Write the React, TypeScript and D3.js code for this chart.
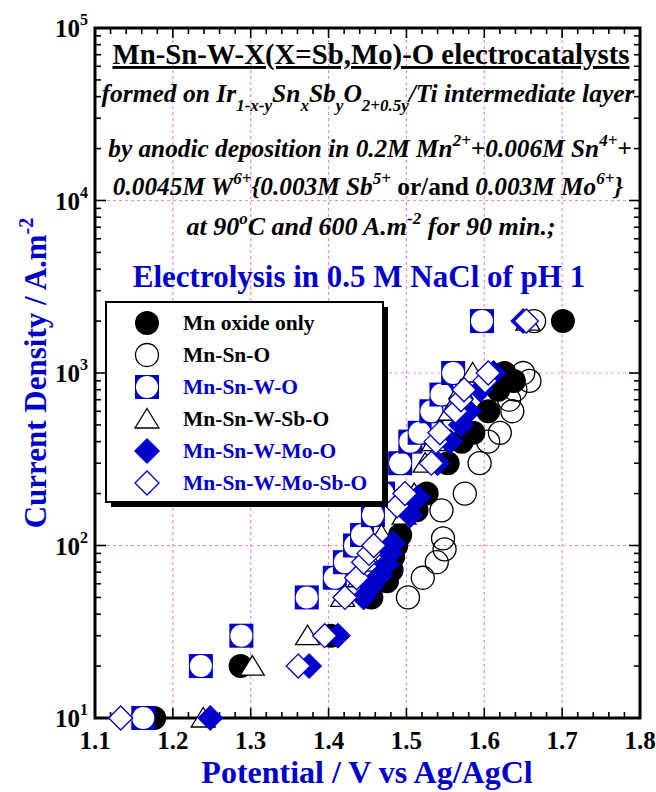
import React from 'react';
import * as d3 from 'd3';

const W = 656, H = 792;
const PLOT = { left: 95, right: 640, top: 28, bottom: 718 };
const BLUE = '#0000cc';
const GRID = '#e48ae4';
const FONT = '"Liberation Serif", "Times New Roman", serif';

// tick values
const xMajor = [1.1, 1.2, 1.3, 1.4, 1.5, 1.6, 1.7, 1.8];
const yDecades = [10, 100, 1000, 10000, 100000];
const yExponents = ['1', '2', '3', '4', '5'];

// series data (potential V vs Ag/AgCl, current density A/m2)
const mnOxideV = [1.176, 1.287, 1.403, 1.455, 1.475, 1.481, 1.483, 1.487, 1.492, 1.513, 1.526, 1.553, 1.571, 1.586, 1.605, 1.618, 1.638, 1.626, 1.701];
const mnOxideJ = [10, 20, 30, 50, 62, 72, 86, 100, 115, 160, 200, 300, 400, 450, 600, 800, 900, 1000, 2000];

const mnSnV = [1.502, 1.521, 1.539, 1.549, 1.547, 1.545, 1.575, 1.594, 1.605, 1.620, 1.636, 1.632, 1.640, 1.658, 1.650, 1.664];
const mnSnJ = [50, 65, 80, 95, 110, 160, 200, 300, 400, 450, 600, 700, 800, 900, 1000, 2000];

const mnSnWV = [1.162, 1.236, 1.288, 1.372, 1.408, 1.421, 1.434, 1.443, 1.457, 1.470, 1.492, 1.505, 1.517, 1.532, 1.545, 1.560, 1.597];
const mnSnWJ = [10, 20, 30, 50, 65, 80, 100, 115, 150, 200, 300, 400, 450, 600, 750, 1000, 2000];

const mnSnWSbV = [1.239, 1.302, 1.373, 1.418, 1.440, 1.455, 1.462, 1.468, 1.497, 1.510, 1.524, 1.535, 1.545, 1.556, 1.570, 1.585, 1.656];
const mnSnWSbJ = [10, 20, 30, 50, 65, 80, 100, 115, 150, 200, 300, 400, 450, 600, 800, 1000, 2000];

const mnSnWMoV = [1.248, 1.375, 1.412, 1.445, 1.455, 1.466, 1.475, 1.479, 1.483, 1.505, 1.515, 1.540, 1.556, 1.570, 1.580, 1.595, 1.612, 1.650];
const mnSnWMoJ = [10, 20, 30, 50, 58, 67, 78, 90, 103, 150, 190, 300, 400, 500, 600, 800, 1000, 2000];

const mnSnWMoSbV = [1.133, 1.361, 1.395, 1.421, 1.436, 1.445, 1.452, 1.458, 1.488, 1.498, 1.532, 1.538, 1.543, 1.563, 1.570, 1.574, 1.601, 1.605, 1.654];
const mnSnWMoSbJ = [10, 20, 30, 50, 65, 80, 90, 100, 170, 200, 300, 400, 450, 600, 700, 800, 900, 1000, 2000];

const seriesNames = ['Mn oxide only', 'Mn-Sn-O', 'Mn-Sn-W-O', 'Mn-Sn-W-Sb-O', 'Mn-Sn-W-Mo-O', 'Mn-Sn-W-Mo-Sb-O'];
const seriesKinds = ['filledCircle', 'openCircle', 'squareCircle', 'triangle', 'filledDiamond', 'openDiamond'];
const seriesTextColors = ['black', 'black', BLUE, 'black', BLUE, BLUE];
const seriesV = [mnOxideV, mnSnV, mnSnWV, mnSnWSbV, mnSnWMoV, mnSnWMoSbV];
const seriesJ = [mnOxideJ, mnSnJ, mnSnWJ, mnSnWSbJ, mnSnWMoJ, mnSnWMoSbJ];

// title lines: segments [text, kind]; kind: n normal, sup superscript, sub subscript, up upright
type Seg = [string, string];
const titleLine2: Seg[] = [['formed on Ir', 'n'], ['1-x-y', 'sub'], ['Sn', 'n'], ['x', 'sub'], ['Sb', 'n'], ['y', 'sub'], ['O', 'n'], ['2+0.5y', 'sub'], ['/Ti intermediate layer', 'n']];
const titleLine3: Seg[] = [['by anodic deposition in 0.2M Mn', 'n'], ['2+', 'sup'], ['+0.006M Sn', 'n'], ['4+', 'sup'], ['+', 'n']];
const titleLine4: Seg[] = [['0.0045M W', 'n'], ['6+', 'sup'], ['{0.003M Sb', 'n'], ['5+', 'sup'], [' ', 'n'], ['or/and', 'up'], [' 0.003M Mo', 'n'], ['6+', 'sup'], ['}', 'n']];
const titleLine5: Seg[] = [['at 90', 'n'], ['o', 'sup'], ['C and 600 A.m', 'n'], ['-2', 'sup'], [' for 90 min.;', 'n']];

const x = d3.scaleLinear().domain([1.1, 1.8]).range([PLOT.left, PLOT.right]);
const y = d3.scaleLog().domain([10, 100000]).range([PLOT.bottom, PLOT.top]);

function richSpans(segs: Seg[], smallSize: number, up: number, down: number) {
  let offset = 0;
  return segs.map(([t, k], i) => {
    let target = 0;
    if (k === 'sup') target = -up;
    if (k === 'sub') target = down;
    const dy = target - offset;
    offset = target;
    const small = k === 'sup' || k === 'sub';
    return (
      <tspan key={i} dy={dy} fontSize={small ? smallSize : undefined} fontStyle={k === 'up' ? 'normal' : undefined}>
        {t}
      </tspan>
    );
  });
}

function Marker({ kind, cx, cy }: { kind: string; cx: number; cy: number }) {
  const r = 12;
  switch (kind) {
    case 'filledCircle':
      return <circle cx={cx} cy={cy} r={r} fill="black" />;
    case 'openCircle':
      return <circle cx={cx} cy={cy} r={r - 0.5} fill="none" stroke="black" strokeWidth={1.3} />;
    case 'squareCircle':
      return (
        <g>
          <rect x={cx - r} y={cy - r} width={2 * r} height={2 * r} fill={BLUE} />
          <circle cx={cx} cy={cy} r={r - 1} fill="white" />
        </g>
      );
    case 'triangle':
      return (
        <polygon
          points={`${cx},${cy - 10.5} ${cx + 12},${cy + 9} ${cx - 12},${cy + 9}`}
          fill="white"
          stroke="black"
          strokeWidth={1.3}
        />
      );
    case 'filledDiamond':
      return (
        <polygon
          points={`${cx},${cy - 12.5} ${cx + 12.5},${cy} ${cx},${cy + 12.5} ${cx - 12.5},${cy}`}
          fill={BLUE}
          stroke={BLUE}
          strokeWidth={1}
        />
      );
    case 'openDiamond':
      return (
        <polygon
          points={`${cx},${cy - 12} ${cx + 12},${cy} ${cx},${cy + 12} ${cx - 12},${cy}`}
          fill="white"
          stroke={BLUE}
          strokeWidth={1.3}
        />
      );
    default:
      return null;
  }
}

export default function App() {
  const xMinor = d3.range(1.1, 1.8001, 0.02);
  const yMinor: number[] = [];
  [10, 100, 1000, 10000].forEach((d) => {
    for (let k = 2; k <= 9; k++) yMinor.push(d * k);
  });

  const legend = { x: 106, y: 302, w: 277, h: 200 };
  const rowY = (i: number) => legend.y + 21 + i * 32;

  return (
    <svg
      width={W}
      height={H}
      style={{ position: 'absolute', left: 0, top: 0, background: 'white' }}
      fontFamily={FONT}
    >
      <rect x={0} y={0} width={W} height={H} fill="white" />

      {/* grid */}
      <g stroke={GRID} strokeWidth={1.2} strokeDasharray="3,3">
        {xMajor.slice(1, -1).map((v) => (
          <line key={'gx' + v} x1={x(v)} x2={x(v)} y1={PLOT.top} y2={PLOT.bottom} />
        ))}
        {yDecades.slice(1, -1).map((v) => (
          <line key={'gy' + v} x1={PLOT.left} x2={PLOT.right} y1={y(v)} y2={y(v)} />
        ))}
      </g>

      {/* ticks */}
      <g stroke="black" strokeWidth={1.6}>
        {xMinor.map((v, i) => {
          const major = i % 5 === 0;
          const len = major ? 10 : 6;
          return (
            <g key={'xt' + i}>
              <line x1={x(v)} x2={x(v)} y1={PLOT.bottom} y2={PLOT.bottom - len} />
              <line x1={x(v)} x2={x(v)} y1={PLOT.top} y2={PLOT.top + len} />
            </g>
          );
        })}
        {yDecades.map((v) => (
          <g key={'ytM' + v}>
            <line x1={PLOT.left} x2={PLOT.left + 11} y1={y(v)} y2={y(v)} />
            <line x1={PLOT.right} x2={PLOT.right - 11} y1={y(v)} y2={y(v)} />
          </g>
        ))}
        {yMinor.map((v) => (
          <g key={'ytm' + v}>
            <line x1={PLOT.left} x2={PLOT.left + 6} y1={y(v)} y2={y(v)} />
            <line x1={PLOT.right} x2={PLOT.right - 6} y1={y(v)} y2={y(v)} />
          </g>
        ))}
      </g>

      {/* frame */}
      <rect
        x={PLOT.left}
        y={PLOT.top}
        width={PLOT.right - PLOT.left}
        height={PLOT.bottom - PLOT.top}
        fill="none"
        stroke="black"
        strokeWidth={3}
      />

      {/* tick labels */}
      <g fontWeight="bold" fontSize={25} fill="black">
        {xMajor.map((v) => (
          <text key={'xl' + v} x={x(v)} y={PLOT.bottom + 31} textAnchor="middle">
            {d3.format('.1f')(v)}
          </text>
        ))}
        {yDecades.map((v, i) => (
          <text key={'yl' + v} x={PLOT.left - 7} y={y(v) + 9} textAnchor="end">
            10
            <tspan dy={-12} fontSize={16}>{yExponents[i]}</tspan>
          </text>
        ))}
      </g>

      {/* axis titles */}
      <text x={367} y={783} textAnchor="middle" fontWeight="bold" fontSize={32} fill={BLUE}>
        Potential / V vs Ag/AgCl
      </text>
      <text transform="translate(46,373) rotate(-90)" textAnchor="middle" fontWeight="bold" fontSize={31} fill={BLUE}>
        Current Density / A.m<tspan dy={-13} fontSize={20}>-2</tspan>
      </text>

      {/* title block */}
      <text x={371} y={64} textAnchor="middle" fontWeight="bold" fontSize={28.8} textDecoration="underline">
        Mn-Sn-W-X(X=Sb,Mo)-O electrocatalysts
      </text>
      <text x={368} y={102} textAnchor="middle" fontWeight="bold" fontStyle="italic" fontSize={25.5}>
        {richSpans(titleLine2, 17, 11, 9)}
      </text>
      <text x={370} y={157} textAnchor="middle" fontWeight="bold" fontStyle="italic" fontSize={25.3}>
        {richSpans(titleLine3, 17, 11, 9)}
      </text>
      <text x={368} y={195} textAnchor="middle" fontWeight="bold" fontStyle="italic" fontSize={25.3}>
        {richSpans(titleLine4, 17, 11, 9)}
      </text>
      <text x={371} y={235} textAnchor="middle" fontWeight="bold" fontStyle="italic" fontSize={26}>
        {richSpans(titleLine5, 17, 11, 9)}
      </text>
      <text x={359} y={287} textAnchor="middle" fontWeight="bold" fontSize={31} fill={BLUE}>
        Electrolysis in 0.5 M NaCl of pH 1
      </text>

      {/* data */}
      {seriesKinds.map((kind, s) => (
        <g key={'s' + s}>
          {seriesV[s].map((v, i) => (
            <Marker key={i} kind={kind} cx={x(v)} cy={y(seriesJ[s][i])} />
          ))}
        </g>
      ))}

      {/* legend */}
      <rect x={legend.x + 5} y={legend.y + 5} width={legend.w} height={legend.h} fill="black" />
      <rect x={legend.x} y={legend.y} width={legend.w} height={legend.h} fill="white" stroke="black" strokeWidth={2} />
      {seriesNames.map((name, i) => (
        <g key={'lg' + i}>
          <Marker kind={seriesKinds[i]} cx={147} cy={rowY(i)} />
          <text x={183} y={rowY(i) + 7} fontWeight="bold" fontSize={21.5} fill={seriesTextColors[i]}>
            {name}
          </text>
        </g>
      ))}
    </svg>
  );
}
